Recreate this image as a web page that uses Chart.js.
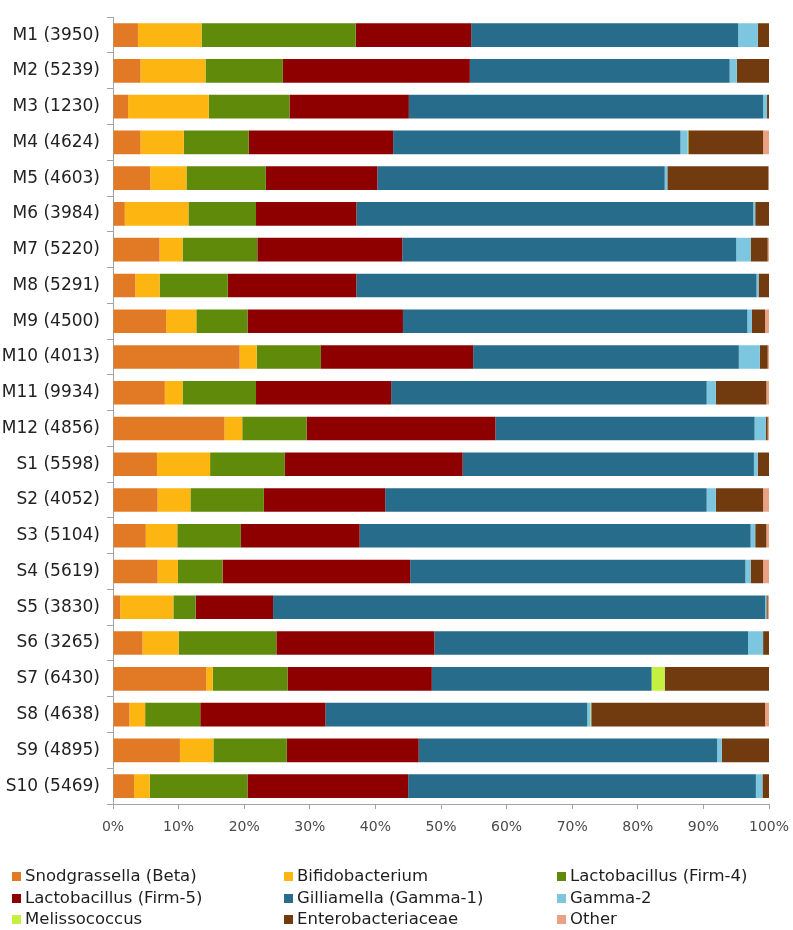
<!DOCTYPE html>
<html>
<head>
<meta charset="utf-8">
<script src="https://cdn.jsdelivr.net/npm/chart.js@4/dist/chart.umd.min.js"></script>
<style>
  html, body { margin: 0; padding: 0; background: #ffffff; }
  #wrap { position: relative; width: 793px; height: 930px; overflow: hidden; }
  #chartBox { position: absolute; left: 0; top: 0; width: 793px; height: 850px; }
  #legend { position: absolute; left: 0; top: 0; width: 793px; height: 930px; pointer-events: none; }
  .li { position: absolute; font-family: "DejaVu Sans", sans-serif; font-size: 16.5px; color: #1e1e1e; white-space: nowrap; line-height: 20px; height: 20px; }
  .sw { position: absolute; width: 9px; height: 9px; left: 0; top: 6px; }
  .tx { position: absolute; left: 13px; top: 0; }
</style>
</head>
<body>
<div id="wrap">
  <div id="chartBox"><canvas id="c"></canvas></div>
  <div id="legend"></div>
</div>
<script>
const categories = ["M1 (3950)","M2 (5239)","M3 (1230)","M4 (4624)","M5 (4603)","M6 (3984)","M7 (5220)","M8 (5291)","M9 (4500)","M10 (4013)","M11 (9934)","M12 (4856)","S1 (5598)","S2 (4052)","S3 (5104)","S4 (5619)","S5 (3830)","S6 (3265)","S7 (6430)","S8 (4638)","S9 (4895)","S10 (5469)"];

const seriesNames = ["Snodgrassella (Beta)","Bifidobacterium","Lactobacillus (Firm-4)","Lactobacillus (Firm-5)","Gilliamella (Gamma-1)","Gamma-2","Melissococcus","Enterobacteriaceae","Other"];

const seriesColors = ["#E27A25","#FDB511","#5F8A0A","#8E0000","#276C8B","#7CC6E0","#C6F040","#723A0F","#E9A284"];

const snodgrassella = [3.8,4.2,2.3,4.2,5.7,1.8,7.1,3.4,8.1,19.3,7.9,17.0,6.7,6.8,5.0,6.8,1.1,4.5,14.2,2.5,10.2,3.2];
const bifidobacterium = [9.7,9.9,12.3,6.6,5.5,9.7,3.5,3.7,4.6,2.6,2.7,2.7,8.1,5.0,4.8,3.1,8.1,5.5,1.0,2.4,5.1,2.4];
const firm4 = [23.5,11.8,12.3,9.9,12.1,10.3,11.4,10.4,7.8,9.8,11.2,9.8,11.4,11.2,9.7,6.8,3.4,14.9,11.4,8.4,11.2,14.9];
const firm5 = [17.6,28.5,18.2,22.0,17.0,15.3,22.1,19.6,23.7,23.2,20.6,28.8,27.1,18.5,18.1,28.6,11.8,24.1,22.0,19.1,20.1,24.5];
const gilliamella = [40.7,39.6,54.0,43.8,43.8,60.5,50.9,61.0,52.5,40.5,48.1,39.5,44.4,49.0,59.6,51.1,75.0,47.8,33.5,39.9,45.5,53.0];
const gamma2 = [3.0,1.1,0.6,1.1,0.4,0.3,2.2,0.3,0.7,3.2,1.4,1.7,0.6,1.4,0.7,0.8,0.2,2.3,0.0,0.5,0.7,1.0];
const melissococcus = [0,0,0,0.1,0,0,0,0,0,0,0,0,0,0,0,0,0,0,2.0,0.1,0,0];
const enterobacteriaceae = [1.7,4.9,0.3,11.4,15.4,2.1,2.6,1.6,2.0,1.2,7.7,0.3,1.7,7.2,1.7,1.9,0.2,0.9,15.9,26.5,7.2,1.0];
const other = [0,0,0,0.9,0.1,0,0.2,0,0.6,0.2,0.4,0.2,0,0.9,0.4,0.9,0.2,0,0,0.6,0,0];

const xTicks = [0,10,20,30,40,50,60,70,80,90,100];

const seriesValues = [snodgrassella, bifidobacterium, firm4, firm5, gilliamella, gamma2, melissococcus, enterobacteriaceae, other];

const datasets = seriesNames.map((name, i) => ({
  label: name,
  data: seriesValues[i],
  backgroundColor: seriesColors[i],
  borderWidth: 0,
  barPercentage: 0.66,
  categoryPercentage: 1.0
}));

const axisColor = "#a3a3a3";

new Chart(document.getElementById("c"), {
  type: "bar",
  data: { labels: categories, datasets: datasets },
  options: {
    indexAxis: "y",
    responsive: true,
    maintainAspectRatio: false,
    animation: false,
    layout: { padding: { top: 4, right: 24, left: 0, bottom: 0 } },
    plugins: { legend: { display: false }, tooltip: { enabled: false } },
    scales: {
      x: {
        stacked: true,
        min: 0,
        max: 100,
        afterBuildTicks: (s) => { s.ticks = xTicks.map(v => ({ value: v })); },
        afterFit: (s) => { s.height = 46; s.paddingRight = 0; },
        border: { display: true, color: axisColor, width: 1 },
        grid: { display: true, drawOnChartArea: false, drawTicks: true, tickLength: 5, color: axisColor },
        ticks: {
          padding: 10,
          color: "#4a4a4a",
          font: { family: "DejaVu Sans", size: 14 },
          callback: (v) => v + "%",
          maxRotation: 0
        }
      },
      y: {
        stacked: true,
        afterFit: (s) => { s.width = 113; },
        border: { display: true, color: axisColor, width: 1 },
        grid: { display: true, drawOnChartArea: false, drawTicks: true, tickLength: 6, color: axisColor, offset: true },
        ticks: {
          padding: 7,
          color: "#222222",
          font: { family: "DejaVu Sans", size: 17 },
          autoSkip: false
        }
      }
    }
  }
});

// Legend (3 columns, built from series arrays)
const legendCols = [12, 284, 557];
const legendRows = [866, 888, 909];
const lg = document.getElementById("legend");
seriesNames.forEach((name, i) => {
  const d = document.createElement("div");
  d.className = "li";
  d.style.left = legendCols[i % 3] + "px";
  d.style.top = legendRows[Math.floor(i / 3)] + "px";
  const sw = document.createElement("span");
  sw.className = "sw";
  sw.style.background = seriesColors[i];
  const tx = document.createElement("span");
  tx.className = "tx";
  tx.textContent = name;
  d.appendChild(sw);
  d.appendChild(tx);
  lg.appendChild(d);
});
</script>
</body>
</html>
